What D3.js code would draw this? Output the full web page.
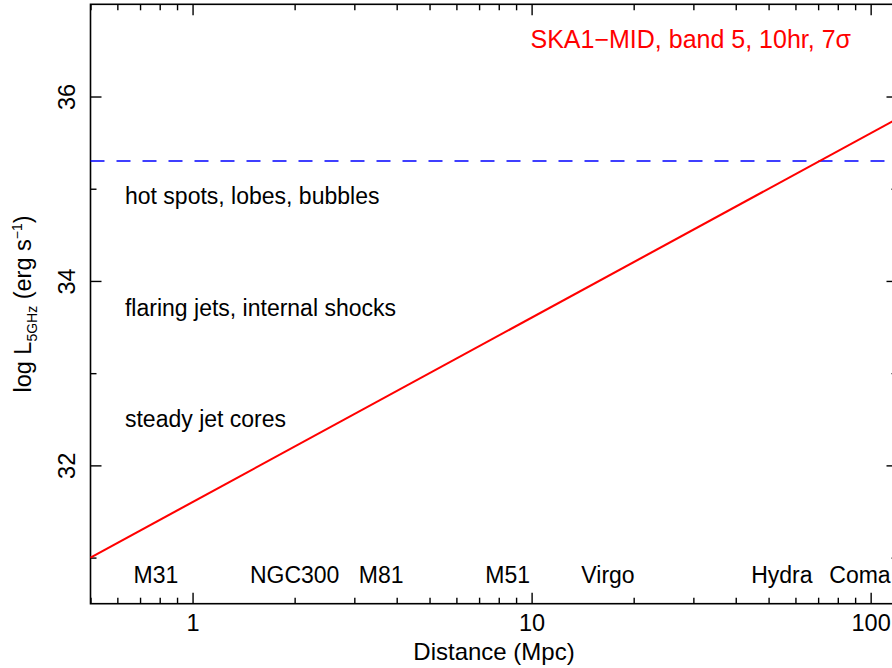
<!DOCTYPE html>
<html>
<head>
<meta charset="utf-8">
<script src="https://cdn.jsdelivr.net/npm/d3@7"></script>
<style>
  html, body { margin: 0; padding: 0; background: #fff; }
  svg { display: block; font-family: "Liberation Sans", Arial, Helvetica, sans-serif; }
</style>
</head>
<body>
<svg id="chart" width="892" height="668"></svg>
<script>
// Sensitivity limit: luminosity reachable vs distance
const limitDistance = [0.5, 120];        // Mpc
const limitLogL = [31.0, 35.76];         // log erg s^-1

// Upper class threshold (dashed)
const thresholdLogL = 35.3;

// Reference objects and their distances (Mpc)
const objectNames = ["M31", "NGC300", "M81", "M51", "Virgo", "Hydra", "Coma"];
const objectDistance = [0.78, 2.0, 3.6, 8.5, 16.8, 54.7, 93];

// Source class annotations, anchored in data space
const classNames = ["hot spots, lobes, bubbles", "flaring jets, internal shocks", "steady jet cores"];
const classDistance = [0.632, 0.632, 0.632];
const classLogL = [34.83, 33.62, 32.42];

// Axis ticks
const xMajorTicks = [1, 10, 100];
const xTickLabels = ["1", "10", "100"];
const yMajorTicks = [32, 34, 36];
const yMinorTicks = [31, 33, 35];

const titleText = "SKA1\u2212MID, band 5, 10hr, 7\u03c3";

const W = 892, H = 668;
const margin = { top: 4.3, left: 90.5, bottom: 64.3, right: -5.5 };
const plotW = W - margin.left - margin.right;
const plotH = H - margin.top - margin.bottom;

const svg = d3.select("#chart");
const g = svg.append("g").attr("transform", `translate(${margin.left},${margin.top})`);

const x = d3.scaleLog().domain([0.5, 120]).range([0, plotW]);
const y = d3.scaleLinear().domain([30.5, 37]).range([plotH, 0]);

const FS = 23;
const majorLen = 11, minorLen = 6;

// minor ticks on the log axis: 2..9 in each decade within the domain
const xMinor = [];
for (let dec = 0.1; dec <= 100; dec *= 10) {
  for (let k = 2; k <= 9; k++) {
    const v = +(k * dec).toPrecision(3);
    if (v >= 0.5 && v <= 120) xMinor.push(v);
  }
}

// Axes with inward ticks
const axisStyle = sel => {
  sel.select(".domain").remove();
  sel.selectAll("line").attr("stroke", "#000").attr("stroke-width", 1.4);
};

// bottom
g.append("g").attr("transform", `translate(0,${plotH})`)
  .call(d3.axisBottom(x).tickValues(xMinor).tickSize(-minorLen).tickFormat(""))
  .call(axisStyle);
g.append("g").attr("transform", `translate(0,${plotH})`)
  .call(d3.axisBottom(x).tickValues(xMajorTicks).tickSize(-majorLen)
    .tickFormat((d, i) => xTickLabels[i]).tickPadding(0))
  .call(axisStyle)
  .call(s => s.selectAll("text").attr("y", 27).attr("dy", 0)
    .attr("font-size", 23.5).attr("fill", "#000").attr("font-family", null));

// top
g.append("g")
  .call(d3.axisTop(x).tickValues(xMinor).tickSize(-minorLen).tickFormat(""))
  .call(axisStyle);
g.append("g")
  .call(d3.axisTop(x).tickValues(xMajorTicks).tickSize(-majorLen).tickFormat(""))
  .call(axisStyle);

// left
g.append("g")
  .call(d3.axisLeft(y).tickValues(yMinorTicks).tickSize(-minorLen).tickFormat(""))
  .call(axisStyle);
const yAx = g.append("g")
  .call(d3.axisLeft(y).tickValues(yMajorTicks).tickSize(-majorLen).tickFormat(d3.format("d")))
  .call(axisStyle);
yAx.selectAll("text")
  .attr("x", null).attr("dy", null)
  .attr("text-anchor", "middle")
  .attr("font-size", 23.5).attr("fill", "#000").attr("font-family", null)
  .attr("transform", "translate(-16,0) rotate(-90)");

// right
g.append("g").attr("transform", `translate(${plotW},0)`)
  .call(d3.axisRight(y).tickValues(yMinorTicks).tickSize(-minorLen).tickFormat(""))
  .call(axisStyle);
g.append("g").attr("transform", `translate(${plotW},0)`)
  .call(d3.axisRight(y).tickValues(yMajorTicks).tickSize(-majorLen).tickFormat(""))
  .call(axisStyle);

// frame
g.append("rect").attr("width", plotW).attr("height", plotH)
  .attr("fill", "none").attr("stroke", "#000").attr("stroke-width", 1.6);

// threshold line
g.append("line")
  .attr("x1", x(0.5)).attr("x2", x(120))
  .attr("y1", y(thresholdLogL)).attr("y2", y(thresholdLogL))
  .attr("stroke", "#0000ff").attr("stroke-width", 1.6)
  .attr("stroke-dasharray", "14,12");

// sensitivity line
const pts = limitDistance.map((d, i) => [d, limitLogL[i]]);
g.append("path")
  .datum(pts)
  .attr("d", d3.line().x(p => x(p[0])).y(p => y(p[1])))
  .attr("fill", "none").attr("stroke", "#ff0000").attr("stroke-width", 2.1);

// object labels along the bottom
g.selectAll(".obj").data(objectNames).enter().append("text")
  .attr("class", "obj")
  .attr("x", (d, i) => x(objectDistance[i]))
  .attr("y", plotH - 21)
  .attr("text-anchor", "middle")
  .attr("font-size", FS)
  .text(d => d);

// class annotations
g.selectAll(".cls").data(classNames).enter().append("text")
  .attr("class", "cls")
  .attr("x", (d, i) => x(classDistance[i]))
  .attr("y", (d, i) => y(classLogL[i]))
  .attr("font-size", FS)
  .text(d => d);

// title
g.append("text")
  .attr("x", 851 - margin.left).attr("y", 48.3 - margin.top)
  .attr("text-anchor", "end")
  .attr("font-size", 25)
  .attr("fill", "#ff0000")
  .text(titleText);

// axis titles
svg.append("text")
  .attr("x", margin.left + plotW / 2).attr("y", 660)
  .attr("text-anchor", "middle")
  .attr("font-size", 24)
  .text("Distance (Mpc)");

const yl = svg.append("text")
  .attr("transform", `translate(31,${margin.top + plotH / 2}) rotate(-90)`)
  .attr("text-anchor", "middle")
  .attr("font-size", 23.5);
yl.append("tspan").text("log L");
yl.append("tspan").attr("font-size", 14).attr("dy", 6).text("5GHz");
yl.append("tspan").attr("dy", -6).text(" (erg s");
yl.append("tspan").attr("font-size", 14).attr("dy", -9).text("\u22121");
yl.append("tspan").attr("dy", 9).text(")");
</script>
</body>
</html>
